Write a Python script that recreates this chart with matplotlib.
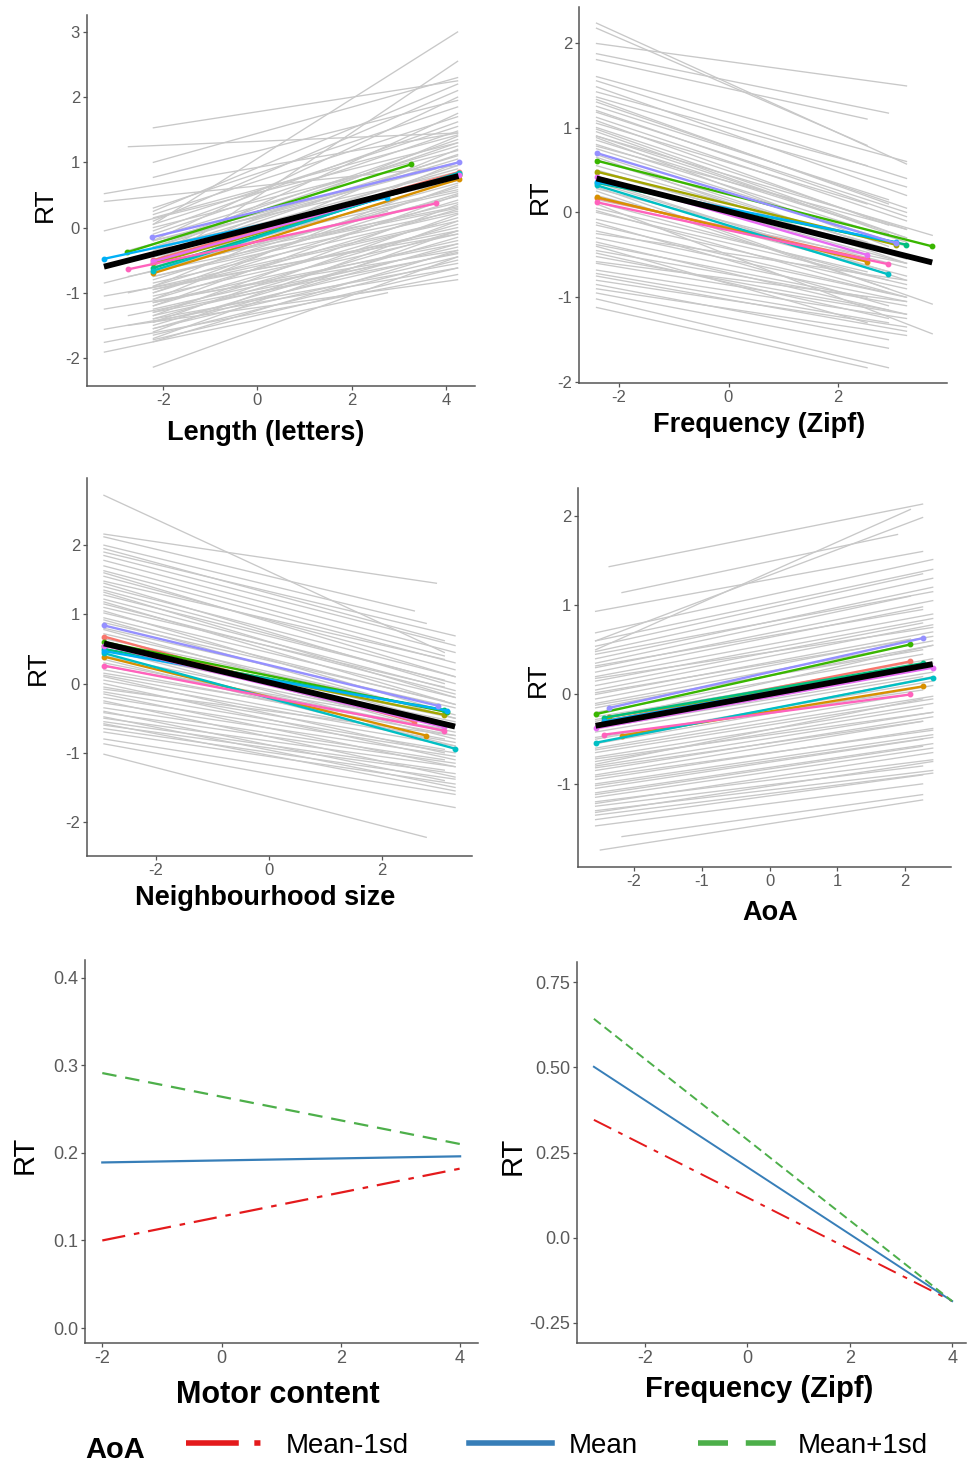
import matplotlib
matplotlib.use("Agg")
import matplotlib.pyplot as plt
from matplotlib.lines import Line2D

plt.rcParams['font.family'] = ['Liberation Sans', 'DejaVu Sans']
plt.rcParams['axes.unicode_minus'] = False

# ------------------------------------------------------------
# participant slopes (grey), end points only
# ------------------------------------------------------------
# Length (letters)
len_x0 = [-2.21, -2.21, -2.21, -2.21, -2.21, -2.21, -2.21, -2.21, -2.21, -2.21,
          -2.21, -2.21, -2.21, -2.21, -2.21, -2.21, -2.21, -2.21, -2.21, -2.21,
          -2.21, -2.21, -2.21, -2.21, -2.21, -2.21, -2.21, -2.21, -2.21, -2.21,
          -2.21, -2.21, -2.21, -2.21, -2.21, -2.21, -2.21, -2.21, -2.21, -2.21,
          -2.21, -2.21, -2.21, -2.21, -2.21, -2.21, -2.21, -2.21, -2.21, -2.21,
          -2.21,
          -3.25, -3.25, -3.25, -3.25, -3.25, -3.25, -3.25, -3.25, -3.25,
          -2.74, -2.74, -2.74, -2.74, -2.74, -2.74,
          -2.21, -2.21, -2.21, -2.21, -2.21, -2.21, -2.21, -2.21, -2.21, -2.21,
          -2.21, -2.21, -2.21, -2.21, -2.21, -2.21, -2.21, -2.21, -2.21, -2.21]
len_x1 = [4.25, 4.25, 4.25, 4.25, 4.25, 4.25, 4.25, 4.25, 4.25, 4.25,
          4.25, 4.25, 4.25, 4.25, 4.25, 4.25, 4.25, 4.25, 4.25, 4.25,
          4.25, 4.25, 4.25, 4.25, 4.25, 4.25, 4.25, 4.25, 4.25, 4.25,
          4.25, 4.25, 4.25, 4.25, 4.25, 4.25, 4.25, 4.25, 4.25, 4.25,
          4.25, 4.25, 4.25, 4.25, 4.25, 4.25, 4.25, 4.25, 4.25, 4.25,
          4.25,
          4.25, 4.25, 4.25, 2.76, 4.25, 4.25, 4.25, 4.25, 2.76,
          4.25, 3.79, 4.25, 3.79, 2.76, 4.25,
          4.25, 4.25, 4.25, 4.25, 4.25, 4.25, 4.25, 4.25, 4.25, 4.25,
          4.25, 4.25, 4.25, 4.25, 4.25, 4.25, 4.25, 4.25, 4.25, 4.25]
len_y0 = [1.53, 1.00, 0.77, 0.05, -0.60, 0.25, 0.10, -0.20, 0.30, -0.40,
          0.20, -0.05, -0.10, 0.15, -0.25, -0.30, -0.15, 0.00, -0.45, -0.35,
          -0.20, -0.55, -0.40, -0.70, -0.50, -0.30, -0.60, -0.80, -0.45, -0.90,
          -0.65, -1.00, -0.75, -0.60, -1.10, -0.85, -1.20, -0.95, -1.30, -1.05,
          -1.40, -1.15, -1.50, -1.25, -1.35, -1.45, -1.55, -1.65, -1.40, -1.72,
          -2.14,
          0.52, 0.40, -0.05, -0.85, -1.05, -1.25, -1.56, -1.76, -1.91,
          1.24, -0.35, -0.75, -1.00, -1.35, -1.50,
          -0.50, -0.70, -0.90, -1.10, -1.00, -1.20, -1.35, -1.45, -1.60, -1.70,
          -0.30, -0.50, -0.75, -0.95, -1.15, -1.30, 0.05, -0.20, -1.55, -1.75]
len_y1 = [2.25, 2.30, 1.95, 3.00, 2.55, 2.20, 2.10, 2.00, 1.85, 1.75,
          1.70, 1.62, 1.48, 1.42, 1.35, 1.30, 1.25, 1.18, 1.12, 1.05,
          1.00, 0.95, 0.90, 0.85, 0.78, 0.72, 0.68, 0.62, 0.58, 0.52,
          0.48, 0.42, 0.38, 0.32, 0.28, 0.22, 0.15, 0.10, 0.05, 0.00,
          -0.05, -0.10, -0.15, -0.20, -0.30, -0.38, -0.45, -0.50, -0.55, -0.62,
          -0.45,
          1.45, 0.95, 1.30, 0.25, -0.10, -0.35, -0.62, -0.72, -1.00,
          1.45, 0.90, 0.30, 0.05, -0.55, -0.80,
          1.40, 1.20, 1.00, 0.80, 0.65, 0.50, 0.35, 0.20, 0.10, -0.05,
          1.10, 0.55, 0.25, -0.05, -0.25, -0.40, 1.55, 0.85, -0.25, -0.35]

# Frequency (Zipf)
frq_x0 = [-2.41, -2.41, -2.41, -2.41, -2.41, -2.41, -2.41, -2.41, -2.41, -2.41,
          -2.41, -2.41, -2.41, -2.41, -2.41, -2.41, -2.41, -2.41, -2.41, -2.41,
          -2.41, -2.41, -2.41, -2.41, -2.41, -2.41, -2.41, -2.41, -2.41, -2.41,
          -2.41, -2.41, -2.41, -2.41, -2.41, -2.41, -2.41, -2.41, -2.41, -2.41,
          -2.41, -2.41, -2.41, -2.41, -2.41, -2.41, -2.41, -2.41, -2.41, -2.41,
          -2.41, -2.41, -2.41, -2.41, -2.41, -2.41, -2.41, -2.41, -2.41, -2.41,
          -2.41, -2.41, -2.41, -2.41, -2.41, -2.41, -2.41, -2.41, -2.41, -2.41]
frq_x1 = [3.25, 2.53, 3.25, 2.92, 2.53, 3.25, 3.25, 3.25, 2.53, 3.25,
          3.25, 2.92, 3.25, 3.25, 2.53, 3.25, 2.92, 3.25, 2.53, 3.25,
          3.25, 2.92, 3.25, 2.53, 3.25, 3.25, 2.92, 3.25, 3.25, 2.92,
          2.53, 3.25, 3.25, 2.92, 3.25, 3.25, 2.53, 3.25, 2.92, 3.25,
          3.25, 2.92, 3.25, 2.92, 2.92, 2.92, 2.53, 3.72, 3.72, 3.72,
          2.92, 3.25, 2.92, 3.25, 2.92, 3.25, 3.25, 2.92, 3.25, 2.92,
          3.25, 3.25, 2.92, 3.25, 3.25, 2.92, 3.25, 3.25, 3.25, 2.53]
frq_y0 = [2.23, 2.17, 1.99, 1.87, 1.80, 1.60, 1.55, 1.48, 1.42, 1.36,
          1.30, 1.25, 1.18, 1.12, 1.05, 1.00, 0.95, 0.90, 0.85, 0.80,
          0.75, 0.68, 0.62, 0.55, 0.50, 0.42, 0.35, 0.28, 0.20, 0.12,
          0.05, 0.00, -0.08, -0.15, -0.22, -0.30, -0.38, -0.45, -0.52, -0.60,
          -0.68, -0.72, -0.80, -0.85, -0.95, -1.02, -1.12, 0.30, 0.10, 0.90,
          1.33, 1.20, 1.08, 0.98, 0.88, 0.78, 0.65, 0.48, 0.38, 0.25,
          0.15, 0.02, -0.12, -0.25, -0.35, -0.48, -0.58, -0.75, -0.90, -0.40]
frq_y1 = [0.57, 0.79, 1.49, 1.17, 1.10, 0.60, 0.40, 0.20, 0.55, 0.30,
          0.05, 0.15, 0.00, -0.10, 0.10, -0.20, -0.25, -0.30, -0.15, -0.35,
          -0.40, -0.45, -0.50, -0.35, -0.55, -0.60, -0.70, -0.65, -0.75, -0.80,
          -0.70, -0.85, -0.90, -0.95, -1.00, -1.05, -1.00, -1.10, -1.15, -1.20,
          -1.25, -1.30, -1.35, -1.50, -1.60, -1.83, -1.83, -1.08, -1.43, -0.27,
          0.10, -0.05, -0.15, -0.30, -0.40, -0.20, -0.60, -0.45, -0.80, -0.90,
          -0.60, -1.00, -1.10, -0.80, -1.20, -1.25, -1.05, -1.40, -1.45, -1.30]

# Neighbourhood size
nbr_x0 = [-2.92, -2.92, -2.92, -2.92, -2.92, -2.92, -2.92, -2.92, -2.92, -2.92,
          -2.92, -2.92, -2.92, -2.92, -2.92, -2.92, -2.92, -2.92, -2.92, -2.92,
          -2.92, -2.92, -2.92, -2.92, -2.92, -2.92, -2.92, -2.92, -2.92, -2.92,
          -2.92, -2.92, -2.92, -2.92, -2.92, -2.92, -2.92, -2.92, -2.92, -2.92,
          -2.92, -2.92, -2.92, -2.92, -2.92,
          -2.92, -2.92, -2.92, -2.92, -2.92, -2.92, -2.92, -2.92, -2.92, -2.92,
          -2.92, -2.92, -2.92, -2.92, -2.92, -2.92, -2.92, -2.92, -2.92, -2.92]
nbr_x1 = [3.10, 2.96, 2.57, 2.78, 3.10, 3.29, 3.29, 3.29, 3.10, 3.29,
          3.29, 3.10, 3.29, 3.29, 3.10, 3.29, 3.29, 3.10, 3.29, 3.29,
          3.10, 3.29, 3.29, 3.10, 3.29, 3.29, 3.10, 3.29, 3.29, 3.10,
          3.29, 3.29, 3.10, 3.29, 3.29, 3.10, 3.29, 3.29, 3.10, 3.29,
          3.29, 3.29, 3.29, 3.29, 2.78,
          3.29, 3.10, 3.29, 3.29, 3.10, 3.29, 3.29, 3.10, 3.29, 3.29,
          3.29, 3.10, 3.29, 3.29, 3.29, 3.10, 3.29, 3.29, 3.10, 3.29]
nbr_y0 = [2.72, 2.16, 2.12, 2.00, 1.95, 1.90, 1.85, 1.78, 1.70, 1.63,
          1.55, 1.48, 1.40, 1.35, 1.28, 1.22, 1.15, 1.10, 1.02, 0.95,
          0.88, 0.80, 0.72, 0.65, 0.55, 0.48, 0.40, 0.30, 0.20, 0.12,
          0.05, -0.05, -0.12, -0.20, -0.28, -0.35, -0.42, -0.50, -0.55, -0.60,
          -0.65, -0.70, -0.80, -0.87, -1.02,
          1.60, 1.45, 1.32, 1.18, 1.05, 0.92, 0.78, 0.62, 0.50, 0.35,
          0.25, 0.10, 0.00, -0.15, -0.25, -0.40, -0.48, -0.58, 0.15, -0.08]
nbr_y1 = [0.45, 1.45, 1.05, 0.87, 0.62, 0.69, 0.55, 0.45, 0.40, 0.30,
          0.20, 0.35, 0.10, 0.00, 0.05, -0.10, -0.15, -0.05, -0.20, -0.30,
          -0.25, -0.35, -0.45, -0.40, -0.50, -0.55, -0.60, -0.70, -0.75, -0.80,
          -0.85, -0.90, -0.95, -1.00, -1.05, -1.10, -1.15, -1.20, -1.25, -1.30,
          -1.38, -1.45, -1.60, -1.79, -2.22,
          0.10, 0.00, -0.20, -0.30, -0.40, -0.50, -0.60, -0.70, -0.80, -0.90,
          -0.60, -1.00, -1.10, -1.20, -1.35, -1.40, -1.50, -1.55, -0.65, -0.75]

# AoA
aoa_x0 = [-2.37, -2.57, -2.57, -2.18, -2.57, -2.57, -2.57, -2.57, -2.57, -2.57,
          -2.57, -2.57, -2.57, -2.57, -2.57, -2.57, -2.57, -2.57, -2.57, -2.57,
          -2.57, -2.57, -2.57, -2.57, -2.57, -2.57, -2.57, -2.57, -2.57, -2.57,
          -2.57, -2.57, -2.57, -2.57, -2.57, -2.57, -2.57, -2.57, -2.57, -2.57,
          -2.57, -2.57, -2.57, -2.57, -2.18, -2.50,
          -2.57, -2.57, -2.57, -2.57, -2.57, -2.57, -2.57, -2.57, -2.57, -2.57,
          -2.57, -2.57, -2.57, -2.57, -2.57, -2.57, -2.57, -2.57, -2.57, -2.57]
aoa_x1 = [2.26, 2.08, 2.26, 1.89, 2.26, 2.41, 2.41, 2.26, 2.41, 2.41,
          2.08, 2.41, 2.26, 2.41, 2.41, 2.26, 2.41, 2.41, 2.08, 2.41,
          2.41, 2.26, 2.41, 2.41, 2.26, 2.41, 2.41, 2.08, 2.41, 2.41,
          2.26, 2.41, 2.41, 2.26, 2.41, 2.41, 2.26, 2.41, 2.41, 2.41,
          2.26, 2.41, 2.41, 2.26, 2.26, 2.26,
          2.41, 2.26, 2.41, 2.41, 2.26, 2.41, 2.41, 2.26, 2.41, 2.41,
          2.26, 2.41, 2.41, 2.26, 2.41, 2.41, 2.26, 2.41, 2.41, 2.26]
aoa_y0 = [1.43, 0.50, 0.60, 1.14, 0.93, 0.69, 0.60, 0.54, 0.48, 0.40,
          0.35, 0.30, 0.25, 0.20, 0.15, 0.10, 0.05, 0.00, -0.05, -0.10,
          -0.15, -0.20, -0.28, -0.35, -0.42, -0.50, -0.55, -0.60, -0.65, -0.70,
          -0.75, -0.80, -0.85, -0.90, -0.95, -1.00, -1.05, -1.10, -1.15, -1.20,
          -1.25, -1.30, -1.35, -1.47, -1.59, -1.74,
          0.45, 0.32, 0.18, 0.02, -0.12, -0.25, -0.38, -0.48, -0.62, -0.72,
          -0.82, -0.92, -1.02, -1.12, -1.22, -1.32, -1.40, -0.30, -0.55, -0.78]
aoa_y1 = [2.13, 2.07, 1.98, 1.79, 1.60, 1.51, 1.40, 1.35, 1.30, 1.20,
          1.10, 1.05, 0.98, 0.90, 0.85, 0.80, 0.78, 0.70, 0.62, 0.60,
          0.55, 0.45, 0.40, 0.30, 0.20, 0.15, 0.10, 0.00, -0.05, -0.10,
          -0.15, -0.20, -0.25, -0.30, -0.38, -0.45, -0.50, -0.55, -0.60, -0.73,
          -0.80, -0.85, -0.88, -1.00, -1.12, -1.18,
          1.15, 0.95, 0.75, 0.65, 0.50, 0.35, 0.25, 0.05, -0.02, -0.20,
          -0.30, -0.40, -0.48, -0.58, -0.65, -0.75, -0.90, 0.55, 0.20, -0.05]

# highlighted participants (same order in every panel)
part_colors = ['#F8766D', '#D89000', '#A3A500', '#39B600', '#00BF7D',
               '#00BFC4', '#00B0F6', '#9590FF', '#E76BF3', '#FF62BC']

len_cx0 = [-2.21, -2.21, -2.21, -2.77, -2.21, -2.21, -3.26, -2.24, -2.21, -2.74]
len_cy0 = [-0.50, -0.70, -0.55, -0.38, -0.62, -0.66, -0.48, -0.15, -0.52, -0.64]
len_cx1 = [4.27, 4.27, 4.27, 3.27, 4.27, 4.27, 2.76, 4.28, 4.27, 3.79]
len_cy1 = [0.85, 0.74, 0.80, 0.97, 0.82, 0.84, 0.46, 1.00, 0.80, 0.37]

frq_cx0 = [-2.41, -2.41, -2.41, -2.41, -2.41, -2.41, -2.41, -2.41, -2.41, -2.41]
frq_cy0 = [0.17, 0.18, 0.48, 0.61, 0.35, 0.32, 0.36, 0.70, 0.42, 0.12]
frq_cx1 = [2.53, 2.53, 3.05, 3.72, 3.25, 2.92, 3.05, 3.05, 2.53, 2.92]
frq_cy1 = [-0.55, -0.58, -0.38, -0.40, -0.38, -0.73, -0.35, -0.36, -0.50, -0.61]

nbr_cx0 = [-2.92, -2.92, -2.92, -2.92, -2.92, -2.92, -2.92, -2.92, -2.92, -2.92]
nbr_cy0 = [0.68, 0.39, 0.55, 0.60, 0.50, 0.44, 0.47, 0.84, 0.55, 0.26]
nbr_cx1 = [2.57, 2.78, 3.10, 3.15, 3.10, 3.29, 3.15, 2.99, 3.10, 3.10]
nbr_cy1 = [-0.55, -0.75, -0.45, -0.41, -0.38, -0.94, -0.39, -0.32, -0.63, -0.68]

aoa_cx0 = [-2.45, -2.18, -2.37, -2.57, -2.45, -2.57, -2.45, -2.37, -2.57, -2.45]
aoa_cy0 = [-0.30, -0.46, -0.25, -0.22, -0.26, -0.54, -0.30, -0.15, -0.38, -0.45]
aoa_cx1 = [2.08, 2.26, 2.08, 2.08, 2.26, 2.41, 2.26, 2.26, 2.41, 2.08]
aoa_cy1 = [0.37, 0.09, 0.30, 0.56, 0.35, 0.19, 0.33, 0.63, 0.30, 0.00]

# group (fixed effect) line
len_bx, len_by = [-3.26, 4.27], [-0.60, 0.79]
frq_bx, frq_by = [-2.41, 3.72], [0.40, -0.59]
nbr_bx, nbr_by = [-2.92, 3.29], [0.58, -0.62]
aoa_bx, aoa_by = [-2.57, 2.41], [-0.35, 0.34]

# interaction plots with AoA
aoa_levels = ['Mean-1sd', 'Mean', 'Mean+1sd']
motor_x = [-2, 4]
motor_low = [0.100, 0.182]
motor_mean = [0.189, 0.196]
motor_high = [0.291, 0.210]
zipf_x = [-3, 4]
zipf_low = [0.346, -0.187]
zipf_mean = [0.502, -0.187]
zipf_high = [0.643, -0.187]

red, blue, green = '#E41A1C', '#377EB8', '#4DAF4A'

W, H = 968, 1466
fig = plt.figure(figsize=(W / 100, H / 100), dpi=100)


def px_axes(l, t, r, b):
    # place an axes by its pixel box (left, top, right, bottom)
    return fig.add_axes([l / W, 1 - b / H, (r - l) / W, (b - t) / H])


def style_axes(ax, tick_size):
    for s in ['top', 'right']:
        ax.spines[s].set_visible(False)
    for s in ['left', 'bottom']:
        ax.spines[s].set_color('#555555')
        ax.spines[s].set_linewidth(1.1)
    ax.tick_params(length=3, width=0.9, color='#555555', labelcolor='#5a5a5a',
                   labelsize=tick_size, pad=2)
    ax.set_facecolor('none')


def labels(ax, xlabel, xpos, ypos, xsize, ysize):
    ax.set_xlabel(xlabel, fontsize=xsize, fontweight='bold', va='center')
    ax.xaxis.set_label_coords(xpos[0], xpos[1])
    ax.set_ylabel('RT', fontsize=ysize, va='center', ha='center', rotation_mode='default')
    ax.yaxis.set_label_coords(ypos[0], ypos[1])


def slopes_panel(ax, gx0, gy0, gx1, gy1, cx0, cy0, cx1, cy1, bx, by):
    for i in range(len(gx0)):
        ax.plot([gx0[i], gx1[i]], [gy0[i], gy1[i]], color='#c8c8c8', lw=0.95, zorder=1)
    for i in range(len(part_colors)):
        ax.plot([cx0[i], cx1[i]], [cy0[i], cy1[i]], color=part_colors[i], lw=1.7,
                marker='o', ms=3.2, zorder=3)
    ax.plot(bx, by, color='black', lw=4.2, solid_capstyle='butt', zorder=4)


# ---- Length ----
ax1 = px_axes(87, 15, 475, 386)
slopes_panel(ax1, len_x0, len_y0, len_x1, len_y1, len_cx0, len_cy0, len_cx1, len_cy1, len_bx, len_by)
ax1.set_xlim(-3.62, 4.62)
ax1.set_ylim(-2.43, 3.26)
ax1.set_xticks([-2, 0, 2, 4])
ax1.set_yticks([-2, -1, 0, 1, 2, 3])
style_axes(ax1, 12)
labels(ax1, 'Length (letters)', (0.46, -0.127), (-0.108, 0.49), 19.5, 19)

# ---- Frequency ----
ax2 = px_axes(579, 7, 947, 383)
slopes_panel(ax2, frq_x0, frq_y0, frq_x1, frq_y1, frq_cx0, frq_cy0, frq_cx1, frq_cy1, frq_bx, frq_by)
ax2.set_xlim(-2.73, 3.99)
ax2.set_ylim(-2.01, 2.42)
ax2.set_xticks([-2, 0, 2])
ax2.set_yticks([-2, -1, 0, 1, 2])
style_axes(ax2, 12)
labels(ax2, 'Frequency (Zipf)', (0.49, -0.112), (-0.106, 0.495), 19.5, 19)

# ---- Neighbourhood ----
ax3 = px_axes(87, 478, 472, 856)
slopes_panel(ax3, nbr_x0, nbr_y0, nbr_x1, nbr_y1, nbr_cx0, nbr_cy0, nbr_cx1, nbr_cy1, nbr_bx, nbr_by)
ax3.set_xlim(-3.22, 3.59)
ax3.set_ylim(-2.49, 2.97)
ax3.set_xticks([-2, 0, 2])
ax3.set_yticks([-2, -1, 0, 1, 2])
style_axes(ax3, 12)
labels(ax3, 'Neighbourhood size', (0.462, -0.111), (-0.127, 0.497), 19.5, 19)

# ---- AoA ----
ax4 = px_axes(578, 488, 951, 867)
slopes_panel(ax4, aoa_x0, aoa_y0, aoa_x1, aoa_y1, aoa_cx0, aoa_cy0, aoa_cx1, aoa_cy1, aoa_bx, aoa_by)
ax4.set_xlim(-2.83, 2.68)
ax4.set_ylim(-1.93, 2.31)
ax4.set_xticks([-2, -1, 0, 1, 2])
ax4.set_yticks([-1, 0, 1, 2])
style_axes(ax4, 12)
labels(ax4, 'AoA', (0.515, -0.121), (-0.107, 0.493), 19.5, 19)

# ---- Motor content x AoA ----
ax5 = px_axes(85, 960, 478, 1343)
ax5.plot(motor_x, motor_low, color=red, lw=1.6, dashes=(10.5, 4, 2.5, 4))
ax5.plot(motor_x, motor_mean, color=blue, lw=1.6)
ax5.plot(motor_x, motor_high, color=green, lw=1.6, dashes=(6.5, 4))
ax5.set_xlim(-2.29, 4.3)
ax5.set_ylim(-0.017, 0.42)
ax5.set_xticks([-2, 0, 2, 4])
ax5.set_yticks([0.0, 0.1, 0.2, 0.3, 0.4], ['0.0', '0.1', '0.2', '0.3', '0.4'])
style_axes(ax5, 13)
labels(ax5, 'Motor content', (0.49, -0.136), (-0.153, 0.49), 22, 21)

# ---- Frequency x AoA ----
ax6 = px_axes(577, 962, 966, 1343)
ax6.plot(zipf_x, zipf_low, color=red, lw=1.4, dashes=(10, 4, 2.5, 4))
ax6.plot(zipf_x, zipf_mean, color=blue, lw=1.4)
ax6.plot(zipf_x, zipf_high, color=green, lw=1.4, dashes=(4.5, 2.5))
ax6.set_xlim(-3.33, 4.27)
ax6.set_ylim(-0.31, 0.81)
ax6.set_xticks([-2, 0, 2, 4])
ax6.set_yticks([-0.25, 0.0, 0.25, 0.5, 0.75], ['-0.25', '0.0', '0.25', '0.50', '0.75'])
style_axes(ax6, 13)
labels(ax6, 'Frequency (Zipf)', (0.468, -0.121), (-0.166, 0.49), 21, 21)

# ---- legend ----
handles = [Line2D([], [], color=red, lw=4, dashes=(9.5, 2.8, 1.1, 3)),
           Line2D([], [], color=blue, lw=4),
           Line2D([], [], color=green, lw=4, dashes=(5.4, 3.2))]
fig.legend(handles, aoa_levels, loc='center left', bbox_to_anchor=(186 / W, 1 - 1446 / H),
           ncol=3, frameon=False, fontsize=20, handlelength=3.0, handletextpad=0.6,
           columnspacing=2.15, borderaxespad=0, borderpad=0)
fig.text(85 / W, 1 - 1450 / H, 'AoA', fontsize=21, fontweight='bold', va='center')

fig.savefig('out.png', dpi=100)
